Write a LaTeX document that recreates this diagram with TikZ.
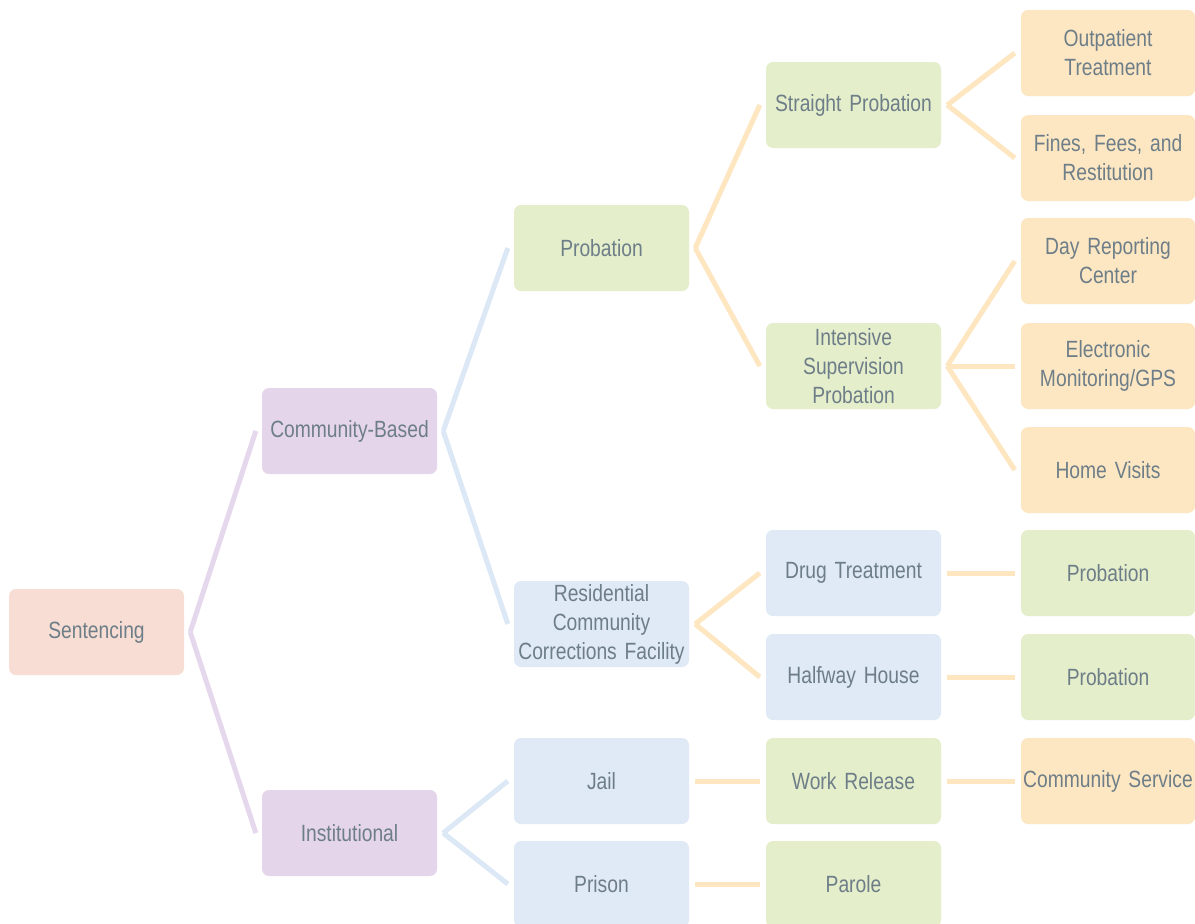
\documentclass[tikz,border=0pt]{standalone}
\usepackage{fontspec}
\setmainfont[FakeStretch=0.82,WordSpace=0.8]{Liberation Sans}
\definecolor{txt}{HTML}{6E7E88}
\definecolor{fsent}{HTML}{F7DDD3}
\definecolor{fpur}{HTML}{E5D5EA}
\definecolor{fgrn}{HTML}{E4EECB}
\definecolor{fblu}{HTML}{DFEAF6}
\definecolor{forg}{HTML}{FDE7C2}
\definecolor{lpur}{HTML}{E6D8EC}
\definecolor{lblu}{HTML}{DCE8F6}
\definecolor{lorg}{HTML}{FDE6C0}
\tikzset{
  box/.style={rectangle, rounded corners=7pt, minimum width=175pt, minimum height=86pt, inner sep=0pt, text width=174pt, align=center, text=txt, font=\fontsize{23.5}{29}\selectfont},
  sentbox/.style={box, fill=fsent},
  purbox/.style={box, fill=fpur},
  grnbox/.style={box, fill=fgrn},
  blubox/.style={box, fill=fblu},
  orgbox/.style={box, fill=forg, minimum width=174pt},
  conn/.style={line width=5pt},
}
\begin{document}
\begin{tikzpicture}[x=1pt,y=-1pt]
\useasboundingbox (0,0) rectangle (1195,924);
\fill[white] (0,0) rectangle (1195,924);
% column 1
\node[sentbox] (sent) at (96.5,632) {Sentencing};
% column 2
\node[purbox] (comm) at (349.5,431) {Community-Based};
\node[purbox] (inst) at (349.5,833) {Institutional};
% column 3
\node[grnbox] (prob) at (601.5,248) {Probation};
\node[blubox] (resid) at (601.5,624) {Residential\\Community\\Corrections Facility};
\node[blubox] (jail) at (601.5,781) {Jail};
\node[blubox] (prison) at (601.5,884) {Prison};
% column 4
\node[grnbox] (straight) at (853.5,105) {Straight Probation};
\node[grnbox] (intens) at (853.5,366) {Intensive\\Supervision\\Probation};
\node[blubox] (drug) at (853.5,573) {Drug Treatment};
\node[blubox] (halfway) at (853.5,677) {Halfway House};
\node[grnbox] (work) at (853.5,781) {Work Release};
\node[grnbox] (parole) at (853.5,884) {Parole};
% column 5
\node[orgbox] (outp) at (1108,53) {Outpatient\\Treatment};
\node[orgbox] (fines) at (1108,158) {Fines, Fees, and\\Restitution};
\node[orgbox] (day) at (1108,261) {Day Reporting\\Center};
\node[orgbox] (elec) at (1108,366) {Electronic\\Monitoring/GPS};
\node[orgbox] (home) at (1108,470) {Home Visits};
\node[grnbox, minimum width=174pt] (pa) at (1108,573) {Probation};
\node[grnbox, minimum width=174pt] (pb) at (1108,677) {Probation};
\node[orgbox] (cs) at (1108,781) {Community Service};
% connectors
\foreach \a/\b in {sent/comm, sent/inst}
  \draw[conn, lpur] ([xshift=6]\a.east) -- ([xshift=-6]\b.west);
\foreach \a/\b in {comm/prob, comm/resid, inst/jail, inst/prison}
  \draw[conn, lblu] ([xshift=6]\a.east) -- ([xshift=-6]\b.west);
\foreach \a/\b in {prob/straight, prob/intens, resid/drug, resid/halfway, jail/work, prison/parole,
  straight/outp, straight/fines, intens/day, intens/elec, intens/home, drug/pa, halfway/pb, work/cs}
  \draw[conn, lorg] ([xshift=6]\a.east) -- ([xshift=-6]\b.west);
\end{tikzpicture}
\end{document}
